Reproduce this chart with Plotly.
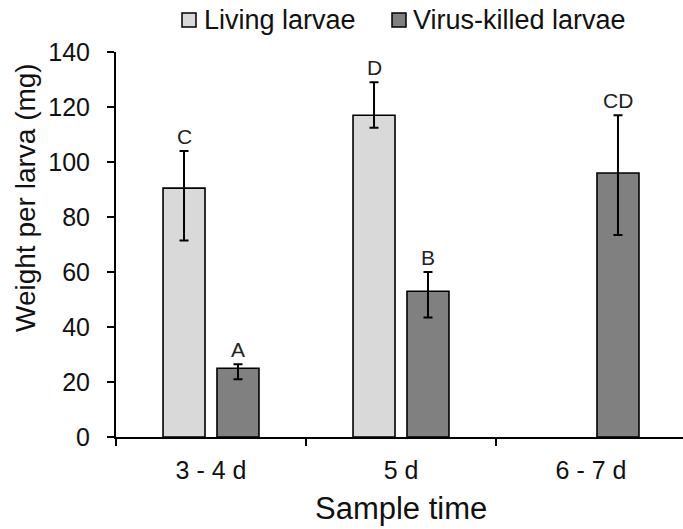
import plotly.graph_objects as go

# Sample times (x categories)
categories = ["3 - 4 d", "5 d", "6 - 7 d"]

# Mean weight per larva (mg) and asymmetric error bounds
living_mean = [90.5, 117.0, None]
living_err_plus = [13.5, 12.0, None]
living_err_minus = [19.0, 4.5, None]

virus_mean = [25.0, 53.0, 96.0]
virus_err_plus = [1.5, 7.0, 21.0]
virus_err_minus = [4.0, 9.5, 22.5]

# Significance letters over each bar
living_letters = ["C", "D", None]
virus_letters = ["A", "B", "CD"]

FONT = "Liberation Sans, Arial, sans-serif"
LIVING_COLOR = "#D9D9D9"
VIRUS_COLOR = "#808080"

BARGAP = 0.432
OFFSET = (1 - BARGAP) / 4  # centre offset of each bar inside its group

fig = go.Figure()

fig.add_trace(go.Bar(
    name="Living larvae", x=categories, y=living_mean,
    marker=dict(color=LIVING_COLOR, line=dict(color="black", width=1.6)),
    error_y=dict(type="data", symmetric=False, array=living_err_plus,
                 arrayminus=living_err_minus, color="black", thickness=2, width=4.5),
    showlegend=False,
))
fig.add_trace(go.Bar(
    name="Virus-killed larvae", x=categories, y=virus_mean,
    marker=dict(color=VIRUS_COLOR, line=dict(color="black", width=1.6)),
    error_y=dict(type="data", symmetric=False, array=virus_err_plus,
                 arrayminus=virus_err_minus, color="black", thickness=2, width=4.5),
    showlegend=False,
))

annotations = []
# letters above the upper error cap
for i, (m, e, t) in enumerate(zip(living_mean, living_err_plus, living_letters)):
    if t and m is not None:
        annotations.append(dict(x=i - OFFSET, y=m + e, xref="x", yref="y", text=t,
                                showarrow=False, yanchor="middle", yshift=15,
                                font=dict(family=FONT, size=21, color="#222")))
for i, (m, e, t) in enumerate(zip(virus_mean, virus_err_plus, virus_letters)):
    if t and m is not None:
        annotations.append(dict(x=i + OFFSET, y=m + e, xref="x", yref="y", text=t,
                                showarrow=False, yanchor="middle", yshift=15,
                                font=dict(family=FONT, size=21, color="#222")))

# plot-area geometry in pixels, used to place the free-standing texts
W, H, L, T = 567.0, 385.0, 116.0, 52.0


def px_x(p):
    return (p - L) / W


def px_y(p):
    return (T + H - p) / H


# axis titles
annotations.append(dict(x=px_x(25), y=px_y(198), xref="paper", yref="paper",
                        text="Weight per larva (mg)", textangle=-90, showarrow=False,
                        xanchor="center", yanchor="middle",
                        font=dict(family=FONT, size=28, color="#111")))
annotations.append(dict(x=px_x(401), y=px_y(508), xref="paper", yref="paper",
                        text="Sample time", showarrow=False,
                        xanchor="center", yanchor="middle",
                        font=dict(family=FONT, size=31, color="#111")))

# legend drawn as swatches + labels above the plot
shapes = []
legend_items = [("Living larvae", LIVING_COLOR, 182, 202),
                ("Virus-killed larvae", VIRUS_COLOR, 392, 411)]
for label, color, sx, tx in legend_items:
    shapes.append(dict(type="rect", xref="paper", yref="paper",
                       x0=px_x(sx), x1=px_x(sx + 14), y0=px_y(27), y1=px_y(13),
                       fillcolor=color, line=dict(color="black", width=1.5)))
    annotations.append(dict(x=px_x(tx), y=px_y(20), xref="paper", yref="paper",
                            text=label, showarrow=False, xanchor="left", yanchor="middle",
                            font=dict(family=FONT, size=27, color="#111")))

fig.update_layout(
    width=683, height=529,
    margin=dict(l=116, r=0, t=52, b=92),
    paper_bgcolor="white", plot_bgcolor="white",
    barmode="group", bargap=BARGAP, bargroupgap=0.222,
    font=dict(family=FONT, size=25, color="#111"),
    annotations=annotations, shapes=shapes,
    showlegend=False,
)
fig.update_xaxes(
    type="category", range=[-0.5, 2.5 - 3 / 190.0],
    showline=True, linecolor="black", linewidth=2,
    ticks="outside", tickson="boundaries", ticklen=7, tickwidth=2, tickcolor="black",
    ticklabelstandoff=10, showgrid=False, zeroline=False,
    tickfont=dict(family=FONT, size=25, color="#111"),
)
fig.update_yaxes(
    range=[0, 140], dtick=20, tick0=0,
    showline=True, linecolor="black", linewidth=2,
    ticks="outside", ticklen=7, tickwidth=2, tickcolor="black",
    ticklabelstandoff=12, showgrid=False, zeroline=False,
    tickfont=dict(family=FONT, size=25, color="#111"),
)

fig.write_html("out.html")
